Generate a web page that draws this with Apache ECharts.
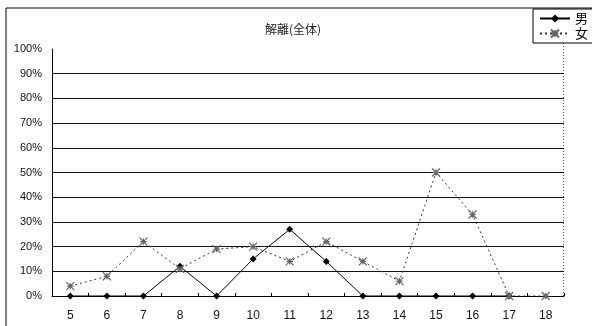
<!DOCTYPE html>
<html><head><meta charset="utf-8">
<script src="https://cdn.jsdelivr.net/npm/echarts@6/dist/echarts.min.js"></script>
<style>html,body{margin:0;padding:0;background:#fff}#c{width:592px;height:326px}</style>
</head><body><div id="c"></div>
<script>
const categories = ['5','6','7','8','9','10','11','12','13','14','15','16','17','18'];
const maleValues = [0,0,0,12,0,15,27,14,0,0,0,0,0,null];
const femaleValues = [4,8,22,11,19,20,14,22,14,6,50,33,0,0];
const titleText = '解離(全体)';
const seriesNames = ['男','女'];
const yTicks = [0,10,20,30,40,50,60,70,80,90,100];

const font = '"Liberation Sans", "Noto Sans CJK JP", sans-serif';
const chart = echarts.init(document.getElementById('c'), null, {renderer:'canvas'});
const splitColors = yTicks.map((v,i)=> (i===0||i===yTicks.length-1)?'rgba(0,0,0,0)':'#111');
const femaleSym = 'path://M0,0L10,10M10,0L0,10M5,1L5,9M1,5L9,5';
chart.setOption({
  animation:false,
  backgroundColor:'#fff',
  title:{text:titleText,left:288,top:18,textAlign:'center',textStyle:{fontFamily:'"Noto Sans CJK JP", sans-serif',fontSize:12,fontWeight:'normal',color:'#222'}},
  legend:{
    orient:'vertical', right:-12, top:9,
    borderColor:'#000', borderWidth:1, backgroundColor:'#fff',
    padding:[3,16,3,6], itemGap:2, itemWidth:30, itemHeight:10,
    textStyle:{fontFamily:'"Noto Sans CJK JP", sans-serif',fontSize:13,color:'#000'},
    data:seriesNames
  },
  grid:{left:52,right:28,top:49,bottom:30},
  xAxis:{
    type:'category', data:categories, boundaryGap:true,
    axisLine:{lineStyle:{color:'#000',width:1}},
    axisTick:{show:true,inside:true,length:3,lineStyle:{color:'#000'}},
    axisLabel:{fontFamily:font,fontSize:12,color:'#111',margin:14}
  },
  yAxis:{
    type:'value', min:0, max:100, interval:10,
    axisLine:{show:true,lineStyle:{color:'#000',width:1}},
    axisTick:{show:false},
    axisLabel:{fontFamily:font,fontSize:11,color:'#111',margin:10,formatter:'{value}%'},
    splitLine:{show:true,lineStyle:{color:splitColors,width:1}}
  },
  graphic:[
    {type:'polyline',shape:{points:[[6,326],[6,8],[592,8]]},style:{stroke:'#000',lineWidth:1,fill:null},z:-1},
    {type:'line',shape:{x1:563.5,y1:40,x2:563.5,y2:297},style:{stroke:'#555',lineWidth:1,lineDash:[1,2]}}
  ],
  series:[
    {name:seriesNames[0],type:'line',data:maleValues,symbol:'diamond',symbolSize:7,
     lineStyle:{color:'#000',width:1},itemStyle:{color:'#000'},connectNulls:false},
    {name:seriesNames[1],type:'line',data:femaleValues,symbol:femaleSym,symbolSize:8,
     lineStyle:{color:'#333',width:1,type:[2,3]},
     itemStyle:{color:'#fff',borderColor:'#666',borderWidth:1.2}}
  ]
});
</script></body></html>
